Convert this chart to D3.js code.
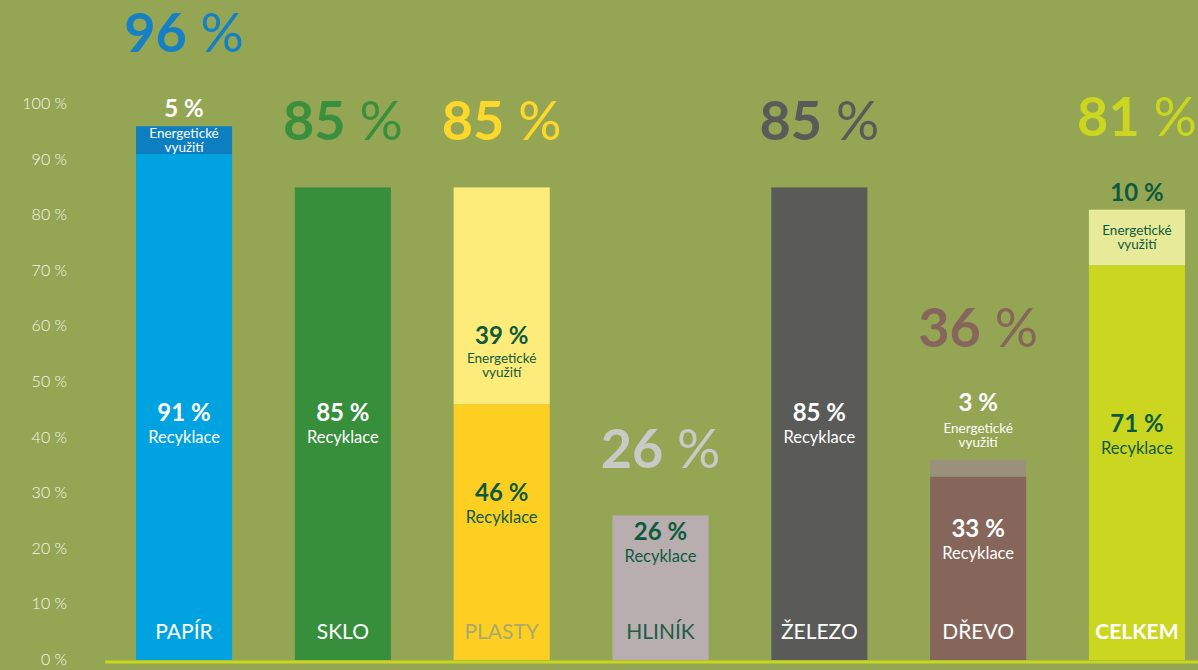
<!DOCTYPE html>
<html>
<head>
<meta charset="utf-8">
<script src="https://cdn.jsdelivr.net/npm/d3@7"></script>
<style>
  html, body { margin: 0; padding: 0; background: #94a653; }
  svg { display: block; font-family: Lato, "Open Sans", sans-serif; }
</style>
</head>
<body>
<div id="chart"></div>
<script>
// recycling vs energy recovery by material (values in %)
const categories = ['PAPÍR', 'SKLO', 'PLASTY', 'HLINÍK', 'ŽELEZO', 'DŘEVO', 'CELKEM'];
const recycling  = [91, 85, 46, 26, 85, 33, 71];
const energy     = [5, 0, 39, 0, 0, 3, 10];
const totals     = [96, 85, 85, 26, 85, 36, 81];
const yTicks     = [0, 10, 20, 30, 40, 50, 60, 70, 80, 90, 100];

const recColor  = ['#00a2df', '#378f3c', '#fecf23', '#b8aeb0', '#5a5a58', '#86665a', '#cbd620'];
const enColor   = ['#0d7fc0', '#378f3c', '#fdec79', '#b8aeb0', '#5a5a58', '#9a917c', '#e7ea99'];
const headColor = ['#1581c4', '#3a8f3c', '#fdd72a', '#c9c9c6', '#5a5a58', '#86665a', '#cbd620'];
const DARK = '#0f5a3d';
const inkIn    = ['#fff', '#fff', DARK, DARK, '#fff', '#fff', DARK];
const catInk   = ['#fff', '#fff', '#aaa96c', '#1d5e45', '#fff', '#fff', '#fff'];

const W = 1198, H = 670;

const svg = d3.select('#chart').append('svg')
  .attr('width', W).attr('height', H);

svg.append('rect').attr('width', W).attr('height', H).attr('fill', '#94a653');

const x = d3.scaleBand().domain(categories).range([136, 1185]).paddingInner(0.395).paddingOuter(0);
const y = d3.scaleLinear().domain([0, 100]).range([660, 104]);
const bw = x.bandwidth();

// y axis labels
svg.append('g').selectAll('text')
  .data(yTicks)
  .join('text')
  .attr('x', 67).attr('y', d => y(d) + 5)
  .attr('text-anchor', 'end')
  .style('font-size', '16px').style('font-weight', 300)
  .attr('fill', '#f4f5ea')
  .text(d => d + ' %');

const pct = v => v + ' %';

categories.forEach((c, i) => {
  const cx = x(c) + bw / 2;
  const g = svg.append('g');
  const yRec = y(recycling[i]);
  const yTop = y(recycling[i] + energy[i]);

  // bars
  g.append('rect').attr('x', x(c)).attr('width', bw)
    .attr('y', yRec).attr('height', y(0) - yRec).attr('fill', recColor[i]);
  if (energy[i] > 0) {
    g.append('rect').attr('x', x(c)).attr('width', bw)
      .attr('y', yTop).attr('height', yRec - yTop).attr('fill', enColor[i]);
  }

  // recycling label block
  let b;
  if (y(0) - yRec < 160) b = yRec + 25;
  else b = Math.max((yRec + y(0) - 70) / 2 + 4, y(42) - 5);
  g.append('text').attr('x', cx).attr('y', b).attr('text-anchor', 'middle')
    .style('font-size', '24px').style('font-weight', 700).attr('fill', inkIn[i])
    .text(pct(recycling[i]));
  g.append('text').attr('x', cx).attr('y', b + 22).attr('text-anchor', 'middle')
    .style('font-size', '16.5px').attr('fill', inkIn[i])
    .text('Recyklace');

  let topMost = yTop;

  // energy label block
  if (energy[i] > 0) {
    const segH = yRec - yTop;
    const sub = yy => {
      g.append('text').attr('x', cx).attr('y', yy).attr('text-anchor', 'middle')
        .style('font-size', '13.5px').attr('fill', inkIn[i]).text('Energetické');
      g.append('text').attr('x', cx).attr('y', yy + 14).attr('text-anchor', 'middle')
        .style('font-size', '13.5px').attr('fill', inkIn[i]).text('využití');
    };
    const big = yy => g.append('text').attr('x', cx).attr('y', yy)
      .attr('text-anchor', 'middle').style('font-size', '24px').style('font-weight', 700)
      .attr('fill', inkIn[i]).text(pct(energy[i]));

    if (segH >= 90) {
      const eb = yRec - 60;
      big(eb);
      sub(eb + 19);
    } else if (segH >= 20) {
      sub(yTop + segH / 2 - 2);
      big(yTop - 9);
      topMost = yTop - 27;
    } else {
      big(yTop - 49);
      sub(yTop - 27);
      topMost = yTop - 66;
    }
  }

  // big headline total
  const head = g.append('text').attr('x', cx).attr('y', topMost - 47)
    .attr('text-anchor', 'middle').attr('fill', headColor[i])
    .style('font-size', '54px');
  head.append('tspan').style('font-weight', 700).text(totals[i]);
  head.append('tspan').style('font-weight', 400).text(' %');

  // category label
  g.append('text').attr('x', cx).attr('y', y(0) - 21).attr('text-anchor', 'middle')
    .style('font-size', '21px').style('font-weight', i === 6 ? 700 : 400)
    .attr('fill', catInk[i]).text(c);
});

// baseline
svg.append('line').attr('x1', 105).attr('x2', W)
  .attr('y1', 662).attr('y2', 662)
  .attr('stroke', '#c8d61e').attr('stroke-width', 3);
</script>
</body>
</html>
